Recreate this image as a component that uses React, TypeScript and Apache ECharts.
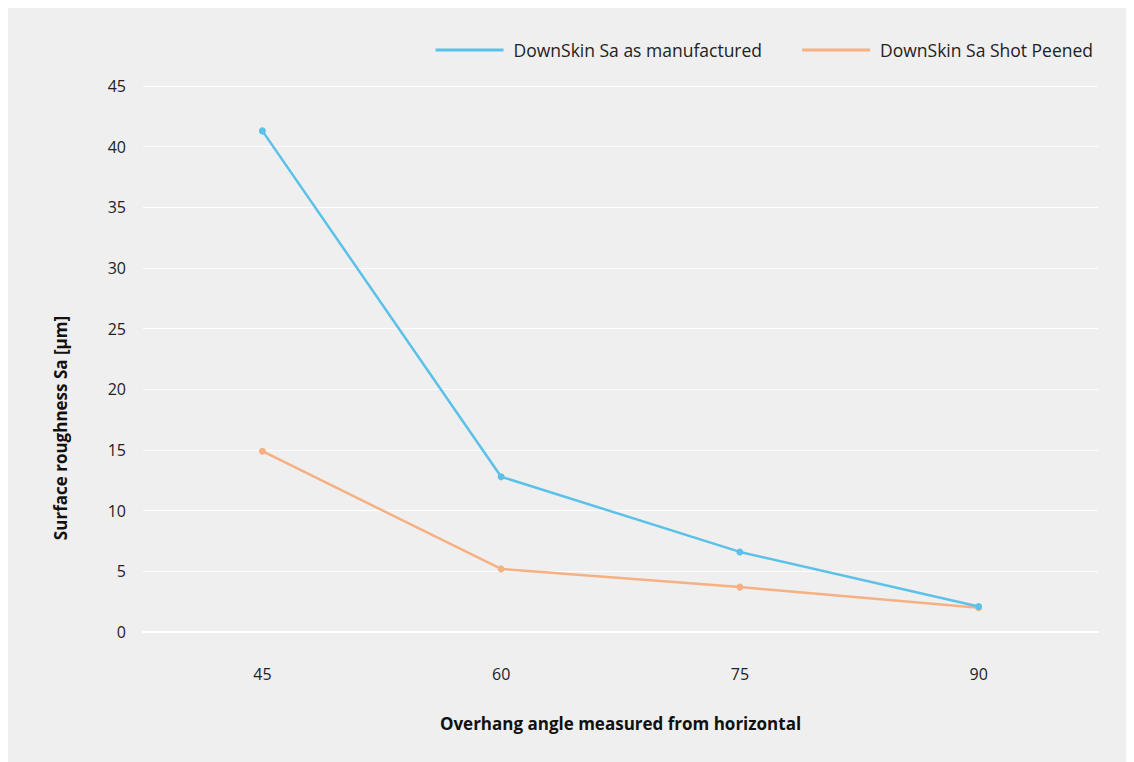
import React, { useEffect, useRef } from "react";
import * as echarts from "echarts";

const categories = ["45", "60", "75", "90"];
const asManufactured = [41.3, 12.8, 6.6, 2.1];
const shotPeened = [14.9, 5.2, 3.7, 2.0];
const seriesNames = ["DownSkin Sa as manufactured", "DownSkin Sa Shot Peened"];
const xTitle = "Overhang angle measured from horizontal";
const yTitle = "Surface roughness Sa [μm]";

const FONT = "'Open Sans', 'Noto Sans', sans-serif";

export default function App() {
  const ref = useRef<HTMLDivElement>(null);
  useEffect(() => {
    if (!ref.current) return;
    const chart = echarts.init(ref.current, undefined, { renderer: "svg" });
    chart.setOption({
      animation: false,
      backgroundColor: "#efefef",
      textStyle: { fontFamily: FONT },
      legend: {
        right: 28,
        top: 28,
        itemWidth: 68,
        itemHeight: 3,
        itemGap: 40,
        icon: "rect",
        textStyle: { fontSize: 17.5, color: "#222", fontFamily: FONT, padding: [0, 0, 0, 5] },
        data: seriesNames,
      },
      grid: { left: 135, right: 28, top: 78, bottom: 130 },
      xAxis: {
        type: "category",
        data: categories,
        boundaryGap: true,
        name: xTitle,
        nameLocation: "middle",
        nameGap: 83,
        nameTextStyle: { fontSize: 17, fontWeight: "bold", color: "#111", fontFamily: FONT },
        axisLine: { lineStyle: { color: "#ffffff", width: 2 } },
        axisTick: { alignWithLabel: true, length: 13, lineStyle: { color: "#ffffff", width: 2 } },
        axisLabel: { fontSize: 16, color: "#222", margin: 34 },
        splitLine: { show: false },
      },
      yAxis: {
        type: "value",
        min: 0,
        max: 45,
        interval: 5,
        axisLine: { show: false },
        axisTick: { show: false },
        axisLabel: { fontSize: 16, color: "#222", margin: 17 },
        splitLine: { lineStyle: { color: "#ffffff", width: 1 } },
      },
      graphic: [
        {
          type: "text",
          x: 52,
          y: 420,
          rotation: Math.PI / 2,
          style: {
            text: yTitle,
            fontSize: 17,
            fontWeight: "bold",
            fill: "#111",
            fontFamily: FONT,
            align: "center",
            verticalAlign: "middle",
          },
        },
      ],
      series: [
        {
          name: seriesNames[1],
          type: "line",
          data: shotPeened,
          symbol: "circle",
          symbolSize: 7,
          itemStyle: { color: "#f5b083" },
          lineStyle: { color: "#f5b083", width: 2.5 },
        },
        {
          name: seriesNames[0],
          type: "line",
          data: asManufactured,
          symbol: "circle",
          symbolSize: 7,
          itemStyle: { color: "#5bc1e8" },
          lineStyle: { color: "#5bc1e8", width: 2.5 },
        },
      ],
    });
    return () => chart.dispose();
  }, []);
  return <div ref={ref} style={{ width: 1118, height: 754 }} />;
}
